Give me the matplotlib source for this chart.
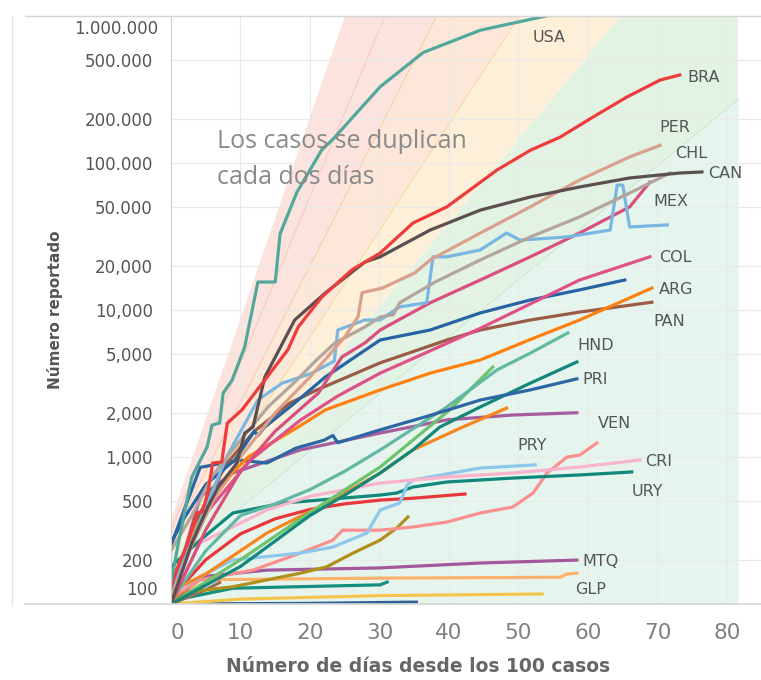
import matplotlib
matplotlib.use("Agg")
from matplotlib import pyplot as plt
from matplotlib.lines import Line2D

plt.rcParams['font.family'] = ['DejaVu Sans']

# --- cases since day of 100th case ---
USA_X = [0, 1, 2.4, 3, 5.2, 5.9, 7, 7.5, 8.8, 10.6, 12.5, 15, 15.7, 18.1, 21.7, 23.3, 30.1, 36.3, 44.5, 53.1, 60]
USA_Y = [140, 250, 535, 731, 1170, 1650, 1700, 2720, 3340, 5600, 15500, 15500, 33000, 63000, 123000,
         145000, 330000, 565000, 800000, 980000, 1150000]
BRA_X = [0, 1.0, 2.4, 3.7, 4.5, 5.3, 6.0, 7.3, 8.1, 10.2, 13.5, 16.8, 18.3, 21.7, 26.0, 30.1, 34.8,
         39.7, 46.9, 51.7, 56.0, 60.7, 65.6, 70.4, 73.2]
BRA_Y = [130, 179, 260, 416, 423, 569, 910, 925, 1700, 2090, 3340, 5350, 7660, 12250, 18700, 24400,
         39000, 50300, 89500, 122000, 150000, 205000, 281000, 367000, 397000]
CAN_X = [0, 3, 5.3, 6.8, 9.5, 10.6, 11.8, 13.5, 17.8, 22.2, 27.9, 30.1, 37.3, 44.5, 51.7, 58.8, 66.0, 73.2, 76.4]
CAN_Y = [100, 260, 457, 625, 910, 1455, 1600, 3500, 8550, 13060, 21200, 23000, 35000, 47800, 58700,
         68700, 79100, 85500, 86900]
PER_X = [0, 3, 6, 10, 15, 20, 25, 26.9, 27.5, 30.4, 35.1, 37.3, 44.5, 51.7, 58.8, 66.0, 70.4]
PER_Y = [110, 250, 500, 1000, 2000, 3500, 6550, 8960, 13100, 14100, 17900, 21900, 33400, 50300, 76600,
         110000, 132000]
CHL_X = [0, 3, 6, 10, 14, 18, 21, 23.6, 27.9, 30.1, 32.0, 32.9, 38, 44.5, 51.7, 58.8, 66.0, 71.8]
CHL_Y = [230, 400, 750, 1300, 2200, 3300, 4600, 5970, 7660, 8960, 9300, 11200, 15500, 21900, 31400,
         43000, 62500, 85500]
ECU_X = [0, 4, 8, 12.5, 16.0, 20.3, 23.5, 24.0, 27.9, 30.1, 32.9, 36.8, 37.7, 39.7, 44.5, 48.3, 50.2,
         57.0, 63.2, 64.2, 65.0, 66.0, 71.4]
ECU_Y = [120, 350, 1000, 2440, 3180, 3720, 4500, 7310, 8550, 8550, 10500, 11200, 23000, 23000, 25600,
         33400, 29900, 31400, 35000, 70800, 70800, 36700, 37900]
MEX_X = [0, 5, 10, 15, 21.2, 24.6, 27.9, 30.1, 37.3, 44.5, 51.7, 58.8, 66.0, 68.9]
MEX_Y = [100, 320, 800, 1500, 2720, 4790, 5970, 7310, 11200, 16000, 23000, 33400, 50300, 74000]
COL_X = [0, 4.2, 11.4, 18.6, 24, 30.1, 37, 44.5, 51.7, 58.8, 68.9]
COL_Y = [105, 372, 950, 1780, 2600, 3720, 5200, 7500, 11000, 16000, 23000]
DOM_X = [0, 2.0, 5, 9.2, 12, 12.5, 13.5, 17.8, 22.2, 30.1, 37.3, 44.5, 51.7, 58.8, 65.3]
DOM_Y = [260, 391, 650, 955, 1500, 1400, 1600, 2330, 3500, 6250, 7310, 9550, 11700, 13700, 16000]
ARG_X = [0, 2.0, 3.9, 6.3, 8.8, 11.1, 13.5, 18.3, 22.2, 30.1, 37.3, 44.5, 51.7, 58.8, 69.2]
ARG_Y = [139, 233, 356, 535, 778, 1000, 1170, 1600, 2090, 2860, 3720, 4570, 6300, 8550, 14100]
PAN_X = [0, 4, 8, 12, 17.1, 21.0, 30.1, 39.7, 44.5, 51.7, 58.8, 69.2]
PAN_Y = [110, 400, 900, 1500, 2330, 2860, 4370, 6250, 7310, 8550, 9680, 11300]
PRI_X = [0, 2, 4.2, 7, 10, 13.8, 18, 22, 23.3, 24, 30.1, 37, 44.5, 51.7, 58.4]
PRI_Y = [250, 450, 850, 900, 950, 910, 1150, 1300, 1400, 1250, 1530, 1900, 2440, 2860, 3400]
HND_X = [0, 5, 10, 15, 20, 25, 30.1, 39.7, 46.9, 51.7, 57.1]
HND_Y = [105, 230, 400, 480, 600, 800, 1117, 2190, 3910, 5090, 6980]
GTM_X = [0, 10, 20, 25, 30.1, 34.8, 38.7, 44.5, 51.7, 58.4]
GTM_Y = [100, 180, 400, 550, 778, 1117, 1600, 2190, 3180, 4430]
SLV_X = [0, 10, 20, 30.1, 40.1, 46.3]
SLV_Y = [100, 200, 420, 855, 2090, 4090]
BOL_X = [0, 1.3, 5.2, 13.8, 23.3, 30.1, 34.8, 42.0, 48.3]
BOL_Y = [100, 131, 162, 304, 509, 778, 1117, 1600, 2150]
CUB_X = [0, 4.2, 8.9, 18.6, 30.1, 39.7, 49.2, 58.4]
CUB_Y = [110, 535, 778, 1117, 1455, 1790, 1930, 2000]
VEN_X = [0, 4.2, 11.8, 18.6, 23.3, 24.7, 30.1, 34.8, 39.7, 44.5, 49.2, 52.1, 54.1, 57.0, 58.8, 61.3]
VEN_Y = [110, 146, 170, 222, 272, 318, 318, 334, 361, 416, 457, 569, 778, 1000, 1030, 1245]
CRI_X = [0, 4.2, 13.8, 20, 30.1, 39.7, 49.2, 58.8, 67.5]
CRI_Y = [110, 260, 436, 540, 665, 731, 778, 855, 955]
PRY_X = [0, 5.2, 8.9, 18.6, 23.3, 28.2, 30.1, 32.9, 34.0, 34.8, 44.5, 52.4]
PRY_Y = [119, 162, 199, 222, 244, 304, 436, 486, 645, 698, 841, 884]
URY_X = [0, 4.2, 8.9, 16.1, 30.1, 32.5, 34.8, 39.7, 49.2, 58.8, 66.3]
URY_Y = [179, 272, 416, 486, 551, 569, 625, 676, 719, 755, 791]
RED2_X = [0, 5, 10, 15, 20, 25, 30.1, 35, 42.3]
RED2_Y = [110, 200, 300, 380, 440, 480, 509, 525, 560]
OLIVE_X = [0, 1.3, 8.9, 18.6, 22.4, 26.2, 30.1, 32.5, 34.1]
OLIVE_Y = [100, 119, 131, 162, 179, 222, 272, 329, 391]
MTQ_X = [0, 4.2, 13.8, 30.1, 44.5, 58.4]
MTQ_Y = [100, 153, 170, 176, 190, 199]
ORG2_X = [0, 4.2, 30.1, 56, 57, 58.4]
ORG2_Y = [100, 146, 150, 152, 160, 162]
TEAL2_X = [0, 8.9, 30.1, 31.1]
TEAL2_Y = [105, 128, 135, 141]
GLP_X = [0, 10, 30, 53.4]
GLP_Y = [100, 108, 114, 117]
BLUE2_X = [0, 20, 35.3]
BLUE2_Y = [100, 101, 103]
BRN2_X = [0, 5, 7]
BRN2_Y = [100, 125, 140]

# doubling-time guide bands (common origin, days to double)
BAND_X = [0, 81.6]
ORIGIN_X, ORIGIN_Y = -3.15, 139
DOUBLING = [2.2, 2.65, 3.23, 4.16, 5.3, 7.76]

Y_TICKS = [100, 200, 500, 1000, 2000, 5000, 10000, 20000, 50000, 100000, 200000, 500000, 1000000]
Y_LABELS = ['', '200', '500', '1,000', '2,000', '5,000', '10,000', '20,000', '50.000',
            '100.000', '200.000', '500.000', '']
X_TICKS = [0, 10, 20, 30, 40, 50, 60, 70, 80]

LABELS = ['USA', 'BRA', 'PER', 'CHL', 'CAN', 'MEX', 'COL', 'ARG', 'PAN', 'HND', 'PRI',
          'VEN', 'PRY', 'CRI', 'URY', 'MTQ', 'GLP']
# label anchor (left, centre) in pixels of the 761x680 picture
LABEL_PX = [(533, 37), (687, 77), (659, 128), (675, 153), (708, 173), (653, 201), (659, 258),
            (659, 289), (653, 321), (577, 345), (582, 379), (598, 424), (517, 446), (645, 461),
            (632, 491), (582, 561), (575, 589)]

series = [
    (BLUE2_X, BLUE2_Y, '#2f5f95'), (GLP_X, GLP_Y, '#f3c54e'), (TEAL2_X, TEAL2_Y, '#128f7e'),
    (ORG2_X, ORG2_Y, '#fbb26d'), (MTQ_X, MTQ_Y, '#a3589e'), (BRN2_X, BRN2_Y, '#9b6b55'),
    (OLIVE_X, OLIVE_Y, '#b0901c'), (VEN_X, VEN_Y, '#fb8f8f'), (RED2_X, RED2_Y, '#e8363b'),
    (URY_X, URY_Y, '#11877a'), (PRY_X, PRY_Y, '#8ec7ec'), (CRI_X, CRI_Y, '#f9b4cc'),
    (CUB_X, CUB_Y, '#a65d9e'), (BOL_X, BOL_Y, '#f7861c'), (SLV_X, SLV_Y, '#6cc46c'),
    (GTM_X, GTM_Y, '#15877a'), (HND_X, HND_Y, '#62b7a5'), (PRI_X, PRI_Y, '#2d67a3'),
    (PAN_X, PAN_Y, '#9a5b47'), (ARG_X, ARG_Y, '#ff800e'), (DOM_X, DOM_Y, '#2664a3'),
    (COL_X, COL_Y, '#e05188'), (MEX_X, MEX_Y, '#d94f7e'), (ECU_X, ECU_Y, '#79b7e3'),
    (CHL_X, CHL_Y, '#b3a49c'), (PER_X, PER_Y, '#d9a08e'), (CAN_X, CAN_Y, '#5b4f4f'),
    (BRA_X, BRA_Y, '#ee3b3b'), (USA_X, USA_Y, '#52a89b'),
]

W, H = 761, 680
fig = plt.figure(figsize=(W / 100, H / 100), dpi=100)
ax = fig.add_axes([171 / W, 1 - 604 / H, 590 / W, 588 / H])
ax.set_yscale('log')
ax.set_xlim(0, 84.9)
ax.set_ylim(100, 1e6)


def guide(d):
    return [ORIGIN_Y * 2 ** ((x - ORIGIN_X) / d) for x in BAND_X]


g = [guide(d) for d in DOUBLING]
ax.fill_between(BAND_X, g[2], g[0], color='#fce3dd', lw=0, zorder=0.2)
ax.fill_between(BAND_X, g[3], g[2], color='#fde7d8', lw=0, zorder=0.2)
ax.fill_between(BAND_X, g[4], g[3], color='#fdefd8', lw=0, zorder=0.2)
ax.fill_between(BAND_X, g[5], g[4], color='#e2f3e3', lw=0, zorder=0.2)
ax.fill_between(BAND_X, [50, 50], g[5], color='#e5f5ee', lw=0, zorder=0.2)
ax.plot(BAND_X, g[1], color='#f6cbc3', lw=0.8, zorder=0.3)
ax.plot(BAND_X, g[2], color='#f7cfa9', lw=0.8, zorder=0.3)
ax.plot(BAND_X, g[3], color='#f3dca3', lw=0.8, zorder=0.3)
ax.plot(BAND_X, g[5], color='#c8e7d2', lw=0.8, zorder=0.3)

ax.set_axisbelow(True)
ax.grid(True, color='#e9e9e9', lw=0.8)
ax.minorticks_off()
ax.set_yticks(Y_TICKS)
ax.set_yticklabels(Y_LABELS, fontsize=12, color='#555555')
ax.set_xticks(X_TICKS)
ax.set_xticklabels([str(v) for v in X_TICKS], fontsize=15.5, color='#808080')
ax.get_xticklabels()[0].set_ha('left')
ax.tick_params(axis='y', length=0, pad=13)
ax.tick_params(axis='x', length=0, pad=14)
for s in ['top', 'right', 'bottom']:
    ax.spines[s].set_visible(False)
ax.spines['left'].set_color('#d0d0d0')

# end tick labels sit inside the plot edges, as in the reference
fig.text(158 / W, 1 - 590 / H, '100', fontsize=12, color='#555555', ha='right', va='center')
fig.text(158 / W, 1 - 29 / H, '1.000.000', fontsize=12, color='#555555', ha='right', va='center')

for xs, ys, c in series:
    ax.plot(xs, ys, color=c, lw=2.3, solid_joinstyle='round', zorder=2, clip_on=True)

for name, (px, py) in zip(LABELS, LABEL_PX):
    fig.text(px / W, 1 - py / H, name, fontsize=11.5, color='#555555', ha='left', va='center')

fig.text(217 / W, 1 - 141 / H, 'Los casos se duplican', fontsize=18, color='#8a8a8a',
         family=['Open Sans', 'DejaVu Sans'], va='center')
fig.text(217 / W, 1 - 178 / H, 'cada dos días', fontsize=18, color='#8a8a8a',
         family=['Open Sans', 'DejaVu Sans'], va='center')

fig.text(418 / W, 1 - 666 / H, 'Número de días desde los 100 casos', fontsize=13.5,
         color='#666666', fontweight='bold', ha='center', va='center')
fig.text(55 / W, 1 - 310 / H, 'Número reportado', fontsize=11, color='#555555',
         fontweight='bold', rotation=90, ha='center', va='center')

# outer frame lines
frame = '#d6d6d6'
fig.add_artist(Line2D([25 / W, 1], [1 - 16 / H, 1 - 16 / H], color=frame, lw=1))
fig.add_artist(Line2D([25 / W, 1], [1 - 604 / H, 1 - 604 / H], color=frame, lw=1.2))
fig.add_artist(Line2D([12 / W, 12 / W], [1 - 16 / H, 1 - 604 / H], color='#e4e4e4', lw=1))

fig.savefig('out.png', dpi=100)
